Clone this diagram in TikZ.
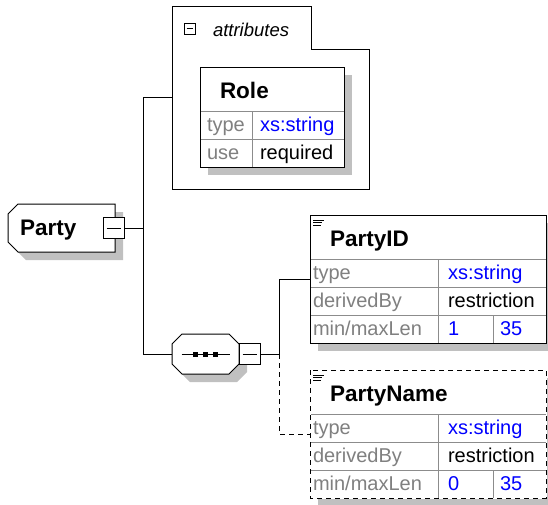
\documentclass[tikz,border=0pt]{standalone}
\usepackage{fontspec}
\setmainfont{Liberation Sans}
\usetikzlibrary{positioning,fit,backgrounds}
\definecolor{shadowgray}{RGB}{192,192,192}
\definecolor{labelgray}{RGB}{128,128,128}
\definecolor{gridgray}{RGB}{140,140,140}
\definecolor{valueblue}{RGB}{0,0,255}
\tikzset{
  every node/.style={outer sep=0pt},
  header/.style={rectangle, draw=gridgray, fill=white, anchor=north west, minimum height=44pt, inner xsep=20pt, inner ysep=0pt, text height=22pt, text depth=4pt, align=left, font=\fontsize{22.5}{24}\selectfont\bfseries},
  cell/.style={rectangle, draw=gridgray, fill=white, anchor=north west, minimum height=28pt, inner ysep=0pt, text height=16pt, text depth=4pt, align=left, font=\fontsize{20}{22}\selectfont},
  lbl/.style={cell, text=labelgray},
  val/.style={cell, text=valueblue},
  expander/.style={rectangle, draw=black, fill=white, minimum size=21pt, inner sep=0pt},
  optline/.style={dash pattern=on 5pt off 4pt},
}
\begin{document}
\begin{tikzpicture}[x=1pt, y=-1pt, line width=1pt]
\useasboundingbox (0,0) rectangle (548,504);
\fill[shadowgray, shift={(8,8)}] (18,204) -- (115,204) -- (115,252) -- (18,252) -- (8,242) -- (8,214) -- cycle;
\draw[fill=white] (18,204) -- (115,204) -- (115,252) -- (18,252) -- (8,242) -- (8,214) -- cycle;
\fill[shadowgray, shift={(8,8)}] (182,334) -- (229,334) -- (239,344) -- (239,364) -- (229,374) -- (182,374) -- (172,364) -- (172,344) -- cycle;
\draw[fill=white] (182,334) -- (229,334) -- (239,344) -- (239,364) -- (229,374) -- (182,374) -- (172,364) -- (172,344) -- cycle;

\node[rectangle, minimum width=107pt, minimum height=48pt, inner xsep=12pt, text width=83pt, align=left, text height=18pt, text depth=4pt, font=\fontsize{22.5}{24}\selectfont\bfseries] (party) at (61.5,228) {Party};
\node[expander] at ([xshift=-1.5pt]party.east) (partyexp) {};
\draw ([xshift=3.5pt]partyexp.west) -- ([xshift=-3.5pt]partyexp.east);
\coordinate (fork) at ([xshift=19pt]partyexp.east);

\node[rectangle, minimum width=197pt, minimum height=183pt] (attrs) at (270.5,97.5) {};
\draw (attrs.south west) -- (attrs.north west) -- ([xshift=139pt]attrs.north west) -- ([xshift=139pt,yshift=-43pt]attrs.north west) -- ([yshift=-43pt]attrs.north east) -- (attrs.south east) -- cycle;
\node[expander, minimum size=11pt] at ([xshift=17.5pt,yshift=-22.5pt]attrs.north west) (attrsexp) {};
\draw ([xshift=2.5pt]attrsexp.west) -- ([xshift=-2.5pt]attrsexp.east);
\node[anchor=base west, inner sep=0pt, font=\fontsize{18.5}{20}\selectfont\itshape] at (213,36) (attrslbl) {attributes};

\node[header, text width=104pt] at (200,67) (roleh) {Role};
\node[lbl, inner xsep=7pt, text width=38pt] at (roleh.south west) (roletype) {type};
\node[val, inner xsep=8pt, text width=76pt] at (roletype.north east) (roletypev) {xs:string};
\node[lbl, inner xsep=7pt, text width=38pt] at (roletype.south west) (roleuse) {use};
\node[cell, inner xsep=8pt, text width=76pt] at (roleuse.north east) (roleusev) {required};
\node[fit=(roleh)(roleusev), inner sep=0pt, draw=black] (role) {};

\node[rectangle, minimum width=67pt, minimum height=40pt] (seq) at (205.5,354) {};
\draw ([xshift=-24pt]seq.center) -- ([xshift=24pt]seq.center);
\foreach \dx in {-10,0,10}
  \fill ([xshift=\dx pt]seq.center) +(-2.5,-2.5) rectangle +(2.5,2.5);
\node[expander, right=0pt of seq] (seqexp) {};
\draw ([xshift=3.5pt]seqexp.west) -- ([xshift=-3.5pt]seqexp.east);
\coordinate (branch) at ([xshift=19pt]seqexp.east);

\node[header, text width=196pt] at (310,215) (pidh) {PartyID};
\node[lbl, inner xsep=3pt, text width=122pt] at (pidh.south west) (pidtype) {type};
\node[val, inner xsep=10pt, text width=88pt] at (pidtype.north east) (pidtypev) {xs:string};
\node[lbl, inner xsep=3pt, text width=122pt] at (pidtype.south west) (pidderiv) {derivedBy};
\node[cell, inner xsep=10pt, text width=88pt] at (pidderiv.north east) (pidderivv) {restriction};
\node[lbl, inner xsep=3pt, text width=122pt] at (pidderiv.south west) (pidlen) {min/maxLen};
\node[val, inner xsep=10pt, text width=35pt] at (pidlen.north east) (pidmin) {1};
\node[val, inner xsep=7pt, text width=39pt] at (pidmin.north east) (pidmax) {35};
\node[fit=(pidh)(pidmax), inner sep=0pt, draw=black] (partyid) {};
\foreach \dy/\len in {5/11,7.5/9,10/8}
  \draw[line width=0.8pt] ([xshift=3pt,yshift=-\dy pt]partyid.north west) -- ++(\len,0);

\node[header, text width=196pt] at (310,370) (pnh) {PartyName};
\node[lbl, inner xsep=3pt, text width=122pt] at (pnh.south west) (pntype) {type};
\node[val, inner xsep=10pt, text width=88pt] at (pntype.north east) (pntypev) {xs:string};
\node[lbl, inner xsep=3pt, text width=122pt] at (pntype.south west) (pnderiv) {derivedBy};
\node[cell, inner xsep=10pt, text width=88pt] at (pnderiv.north east) (pnderivv) {restriction};
\node[lbl, inner xsep=3pt, text width=122pt] at (pnderiv.south west) (pnlen) {min/maxLen};
\node[val, inner xsep=10pt, text width=35pt] at (pnlen.north east) (pnmin) {0};
\node[val, inner xsep=7pt, text width=39pt] at (pnmin.north east) (pnmax) {35};
\node[fit=(pnh)(pnmax), inner sep=0pt] (partyname) {};
\draw[white] (partyname.north west) rectangle (partyname.south east);
\draw[optline] (partyname.north west) rectangle (partyname.south east);
\foreach \dy/\len in {5/11,7.5/9,10/8}
  \draw[line width=0.8pt] ([xshift=3pt,yshift=-\dy pt]partyname.north west) -- ++(\len,0);

\begin{scope}[on background layer]
\fill[shadowgray] ([xshift=8pt,yshift=-8pt]role.north west) rectangle ([xshift=8pt,yshift=-8pt]role.south east);
\fill[shadowgray] ([xshift=8pt,yshift=-8pt]partyid.north west) rectangle ([xshift=8pt,yshift=-8pt]partyid.south east);
\fill[shadowgray] ([xshift=8pt,yshift=-8pt]partyname.north west) rectangle ([xshift=8pt,yshift=-8pt]partyname.south east);
\end{scope}

\draw (partyexp.east) -- (fork);
\draw (fork) |- (attrs.west);
\draw (fork) |- (seq.west);
\draw (seqexp.east) -- (branch);
\draw (branch) |- (partyid.west);
\draw[optline] (branch) |- (partyname.west);
\end{tikzpicture}
\end{document}
